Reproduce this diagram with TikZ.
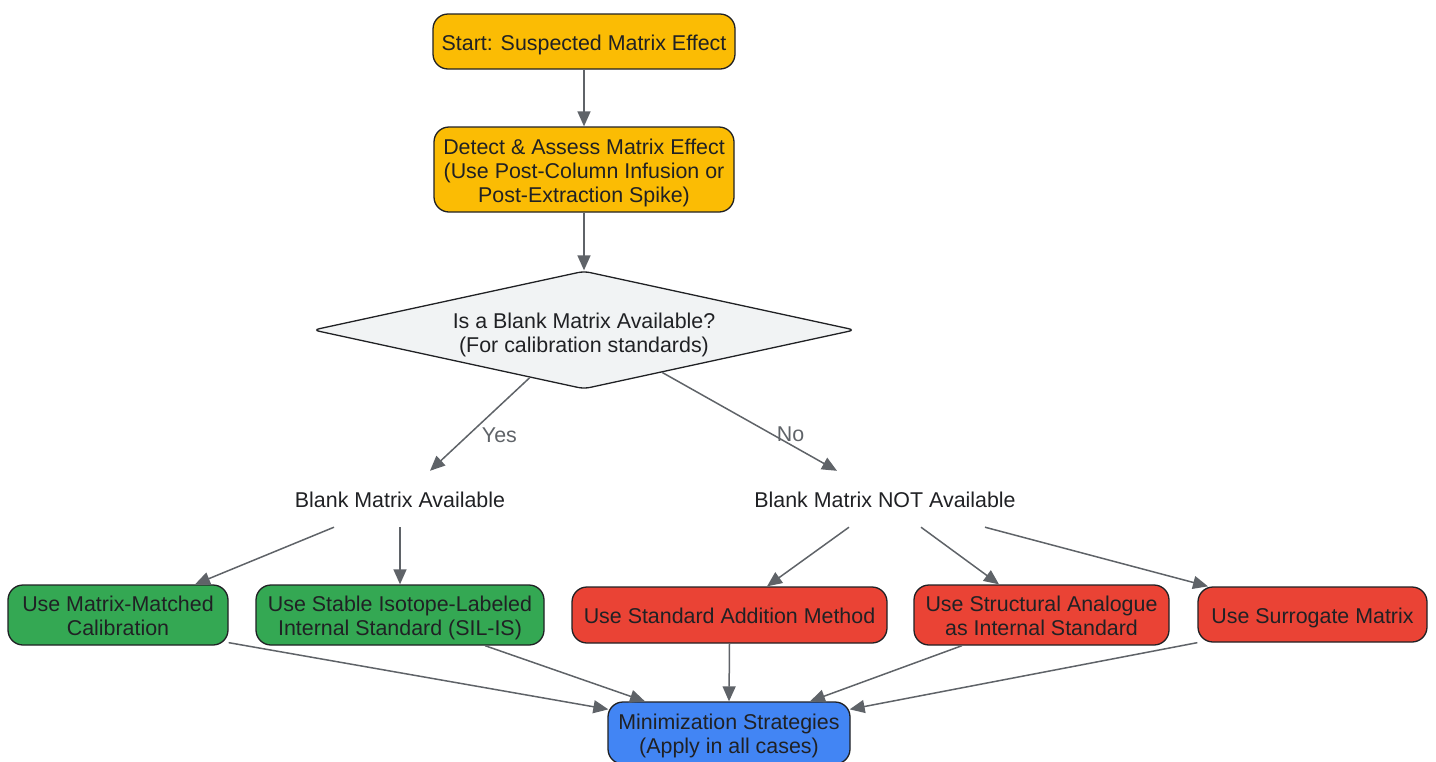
\documentclass[tikz,border=0pt]{standalone}
\usepackage{fontspec}
\setmainfont{Liberation Sans}
\usetikzlibrary{shapes.geometric,arrows.meta,calc}
\definecolor{stepyellow}{HTML}{FBBC04}
\definecolor{usegreen}{HTML}{34A853}
\definecolor{usered}{HTML}{EA4335}
\definecolor{minblue}{HTML}{4285F4}
\definecolor{askgray}{HTML}{F1F3F4}
\definecolor{inkdark}{HTML}{202124}
\definecolor{linkgray}{HTML}{5F6368}
\newcommand{\tallline}{\rule{0pt}{22pt}} %top of the first line, same for all boxes

\begin{document}
\begin{tikzpicture}[x=1pt, y=-1pt,
		every node/.style={font=\fontsize{21.4}{24}\selectfont, text=inkdark, align=center,
			execute at begin node={\rule{0pt}{22pt}}, execute at end node={\rule[-5pt]{0pt}{5pt}}}, %same line box for every text
		box/.style={draw=inkdark, line width=1.3pt, rounded corners=15pt, inner sep=0pt},
		ask/.style={diamond, aspect=4.6, draw=inkdark, fill=askgray, line width=1.3pt, rounded corners=6pt, inner sep=0pt, minimum width=542pt, minimum height=118pt},
		plain/.style={minimum height=56pt, minimum width=260pt},
		link/.style={draw=linkgray, line width=1.5pt, -{Triangle[length=15pt,width=13pt]}},
		linklabel/.style={text=linkgray}]
			\useasboundingbox (0, 0) rectangle (1436, 761); %same size as the picture
			
			\node[box, fill=stepyellow, minimum width=302pt, minimum height=55pt] (start) at (584, 41.5) {Start: Suspected Matrix Effect};
			\node[box, fill=stepyellow, minimum width=300pt, minimum height=85pt] (detect) at (584, 169.5) {\tallline Detect \& Assess Matrix Effect\\(Use Post-Column Infusion or\\Post-Extraction Spike)};
			\node[ask] (blankq) at (584, 330) {\rule{0pt}{26pt}Is a Blank Matrix Available?\\(For calibration standards)};
			
			\node[plain] (blankyes) at (400, 499) {Blank Matrix Available}; %no border here
			\node[plain] (blankno) at (885, 499) {Blank Matrix NOT Available};
			
			\node[box, fill=usegreen, minimum width=220pt, minimum height=60pt] (matched) at (118, 615) {\tallline Use Matrix-Matched\\Calibration};
			\node[box, fill=usegreen, minimum width=288pt, minimum height=60pt] (silis) at (400, 615) {\tallline Use Stable Isotope-Labeled\\Internal Standard (SIL-IS)};
			\node[box, fill=usered, minimum width=315pt, minimum height=56pt] (addition) at (729.5, 615) {Use Standard Addition Method};
			\node[box, fill=usered, minimum width=255pt, minimum height=60pt] (analogue) at (1041.5, 615) {\tallline Use Structural Analogue\\as Internal Standard};
			\node[box, fill=usered, minimum width=229pt, minimum height=55pt] (surrogate) at (1312.5, 614.5) {Use Surrogate Matrix};
			
			\node[box, fill=minblue, minimum width=242pt, minimum height=62pt] (minimize) at (729, 733) {\tallline Minimization Strategies\\(Apply in all cases)}; %runs off the bottom
			
			\draw[link] (start) -- (detect);
			\draw[link] (detect) -- (blankq);
			\draw[link] ($(blankq.south)!0.2!(blankq.west)$) -- ([xshift=30pt]blankyes.north) node[linklabel, pos=0.6, right=8pt] (yes) {Yes};
			\draw[link] ($(blankq.south)!0.288!(blankq.east)$) -- ([xshift=-48pt]blankno.north) node[linklabel, pos=0.62, xshift=20pt] (no) {No};
			
			\draw[link] ([xshift=-66pt]blankyes.south) -- ([xshift=77pt]matched.north);
			\draw[link] (blankyes.south) -- (silis.north);
			\draw[link] ([xshift=-36pt]blankno.south) -- ([xshift=37.5pt]addition.north);
			\draw[link] ([xshift=36pt]blankno.south) -- ([xshift=-42.5pt]analogue.north);
			\draw[link] ([xshift=100pt]blankno.south) -- ([xshift=-104.5pt]surrogate.north);
			
			%everything ends in the blue box
			\draw[link] ([yshift=3pt]matched.south east) -- ([yshift=-8pt, xshift=1pt]minimize.north west);
			\draw[link] ([xshift=85pt]silis.south) -- ([xshift=-84pt]minimize.north);
			\draw[link] (addition.south) -- (minimize.north);
			\draw[link] ([xshift=-79.5pt]analogue.south) -- ([xshift=81pt]minimize.north);
			\draw[link] (surrogate.south west) -- ([yshift=-8pt, xshift=-1pt]minimize.north east);
		\end{tikzpicture}
\end{document}
